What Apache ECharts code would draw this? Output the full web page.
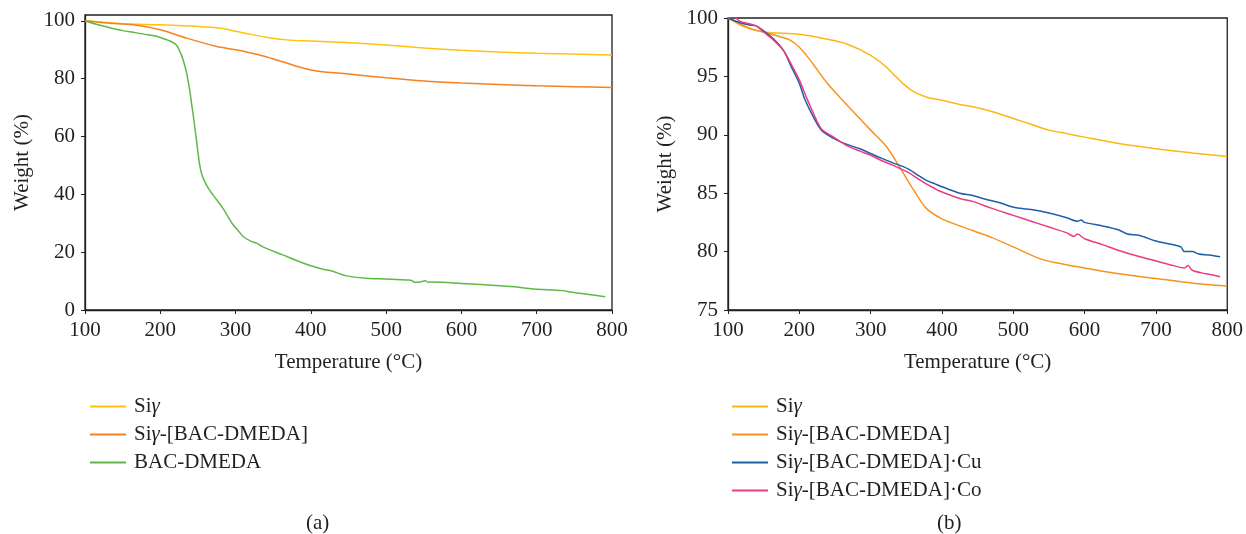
<!DOCTYPE html>
<html>
<head>
<meta charset="utf-8">
<script src="https://cdn.jsdelivr.net/npm/echarts@6/dist/echarts.min.js"></script>
<style>
  html, body { margin: 0; padding: 0; background: #fff; }
  #chart { width: 1246px; height: 534px; }
</style>
</head>
<body>
<div id="chart"></div>
<script>
// TGA curves, [temperature °C, weight %]
// panel (a)
const siyA = [[100,100],[150,99.0],[200,98.6],[252,98.0],[280,97.4],[300,96.4],[320,95.3],[341,94.3],[368,93.4],[400,93.0],[440,92.6],[500,91.6],[550,90.6],[600,89.8],[650,89.2],[700,88.8],[750,88.5],[800,88.2]];
const siyBacA = [[100,100],[130,99.2],[164,98.6],[200,96.9],[235,94.0],[275,91.1],[300,90.0],[332,88.2],[350,86.8],[368,85.4],[385,84.0],[400,83.0],[412,82.5],[450,81.6],[500,80.3],[550,79.2],[600,78.5],[650,78.0],[700,77.5],[750,77.2],[800,76.9]];
const bacA = [[100,100],[115,98.8],[133,97.6],[150,96.6],[164,96.0],[180,95.3],[190,94.9],[200,94.2],[212,93.1],[221,91.7],[228,88.2],[232,85.0],[235,81.9],[239,76.1],[242,70.5],[244,66.9],[248,58.8],[252,50.7],[255,47.0],[259,44.4],[265,41.6],[270,39.8],[283,35.2],[297,29.4],[305,27.0],[310,25.4],[320,23.8],[328,23.1],[335,22.0],[341,21.3],[355,19.8],[368,18.5],[385,16.7],[400,15.3],[415,14.2],[430,13.3],[447,11.8],[474,11.0],[500,10.7],[527,10.4],[533,10.3],[538,9.6],[545,9.7],[552,10.1],[556,9.6],[563,9.7],[600,9.2],[651,8.4],[670,8.0],[696,7.3],[735,6.7],[745,6.2],[762,5.6],[791,4.6]];

// panel (b)
const siyB = [[100,100],[125,99.2],[150,98.8],[200,98.6],[238,98.2],[266,97.8],[300,96.8],[322,95.8],[335,95.0],[345,94.4],[360,93.7],[380,93.2],[397,93.0],[425,92.6],[443,92.4],[470,92.0],[500,91.4],[525,90.9],[550,90.4],[575,90.1],[600,89.8],[648,89.25],[700,88.8],[751,88.45],[800,88.15]];
const siyBacB = [[100,100],[131,99.1],[150,98.8],[173,98.4],[187,98.1],[200,97.5],[210,96.8],[220,96.0],[238,94.5],[257,93.2],[280,91.7],[300,90.4],[322,89.0],[340,87.3],[360,85.3],[378,83.7],[400,82.8],[425,82.2],[443,81.8],[470,81.2],[500,80.4],[537,79.4],[560,79.05],[600,78.6],[648,78.1],[700,77.7],[751,77.3],[800,77.05]];
const cuB = [[100,100],[117,99.6],[130,99.4],[140,99.3],[150,98.9],[164,98.2],[178,97.2],[189,95.8],[200,94.4],[208,93.0],[220,91.5],[231,90.4],[248,89.7],[266,89.2],[285,88.8],[300,88.4],[315,88.0],[331,87.6],[345,87.3],[355,87.0],[365,86.6],[378,86.1],[390,85.8],[400,85.55],[425,85.0],[443,84.8],[460,84.5],[480,84.2],[500,83.8],[525,83.6],[550,83.3],[575,82.9],[590,82.6],[595,82.7],[600,82.5],[625,82.2],[648,81.85],[660,81.5],[676,81.4],[700,80.9],[723,80.6],[735,80.4],[740,80.0],[751,80.0],[760,79.8],[775,79.7],[790,79.55]];
const coB = [[100,100],[108,100.1],[117,99.7],[130,99.5],[140,99.3],[150,98.8],[164,98.1],[178,97.2],[189,96.0],[200,94.7],[210,93.2],[220,91.8],[231,90.5],[248,89.8],[266,89.1],[285,88.6],[300,88.25],[315,87.8],[331,87.4],[345,87.0],[355,86.7],[365,86.3],[378,85.8],[390,85.4],[400,85.1],[425,84.55],[443,84.3],[470,83.7],[500,83.1],[525,82.6],[550,82.1],[575,81.6],[585,81.3],[590,81.5],[600,81.1],[625,80.6],[648,80.1],[675,79.6],[700,79.2],[725,78.8],[740,78.6],[745,78.8],[751,78.4],[770,78.1],[780,78.0],[790,77.85]];

const xTicks = [100, 200, 300, 400, 500, 600, 700, 800];
const yTicksA = [0, 20, 40, 60, 80, 100];
const yTicksB = [75, 80, 85, 90, 95, 100];

const colA = { siy: '#FFC20E', bac: '#F58220', free: '#5EB946' };
const colB = { siy: '#FDB714', bac: '#F7941D', cu: '#1C5EA8', co: '#EC3A84' };

const FONT = '"Liberation Serif", "DejaVu Serif", serif';
const INK = '#231f20';
const FS = 21;

function xAxisCfg(gridIndex) {
    return {
        gridIndex: gridIndex,
        type: 'value',
        min: 100, max: 800, interval: 100,
        name: 'Temperature (°C)',
        nameLocation: 'middle',
        nameGap: 42,
        nameTextStyle: { fontFamily: FONT, fontSize: FS, color: INK },
        axisLine: { show: true, lineStyle: { color: INK, width: 1.3 } },
        axisTick: { show: true, inside: false, length: 4, lineStyle: { color: INK } },
        axisLabel: { fontFamily: FONT, fontSize: FS, color: INK, margin: 10 },
        splitLine: { show: false }
    };
}

function yAxisCfg(gridIndex, min, max, ticks) {
    return {
        gridIndex: gridIndex,
        type: 'value',
        min: min, max: max,
        name: 'Weight (%)',
        nameLocation: 'middle',
        nameRotate: 90,
        nameGap: 52,
        nameTextStyle: { fontFamily: FONT, fontSize: FS, color: INK },
        axisLine: { show: true, lineStyle: { color: INK, width: 1.3 } },
        axisTick: { show: true, inside: false, length: 4, customValues: ticks, lineStyle: { color: INK } },
        axisLabel: { fontFamily: FONT, fontSize: FS, color: INK, margin: 10, customValues: ticks },
        splitLine: { show: false }
    };
}

function line(name, data, color, xi) {
    return {
        name: name, type: 'line', data: data,
        xAxisIndex: xi, yAxisIndex: xi,
        showSymbol: false, symbol: 'none', smooth: 0.3,
        lineStyle: { color: color, width: 1.5 },
        itemStyle: { color: color },
        animation: false
    };
}

function legendCfg(left, items) {
    return {
        orient: 'vertical',
        left: left, top: 391,
        icon: 'rect',
        itemWidth: 36, itemHeight: 2,
        itemGap: 7,
        selectedMode: false,
        data: items.map(it => ({ name: it[0], itemStyle: { color: it[1] } })),
        formatter: name => name.replace('γ', '{i|γ}'),
        textStyle: {
            fontFamily: FONT, fontSize: FS, color: INK, padding: [0, 0, 0, 3],
            rich: { i: { fontFamily: FONT, fontSize: FS, fontStyle: 'italic', color: INK } }
        }
    };
}

const chart = echarts.init(document.getElementById('chart'));
chart.setOption({
    backgroundColor: '#fff',
    animation: false,
    grid: [
        { left: 85, top: 15, width: 527, height: 295, show: true, borderColor: INK, borderWidth: 1.3, containLabel: false },
        { left: 728, top: 18, width: 500, height: 292, show: true, borderColor: INK, borderWidth: 1.3, containLabel: false }
    ],
    xAxis: [xAxisCfg(0), xAxisCfg(1)],
    yAxis: [yAxisCfg(0, 0, 102, yTicksA), yAxisCfg(1, 75, 100, yTicksB)],
    legend: [
        legendCfg(85, [['Siγ', colA.siy], ['Siγ-[BAC-DMEDA]', colA.bac], ['BAC-DMEDA', colA.free]]),
        legendCfg(727, [['Siγ ', colB.siy], ['Siγ-[BAC-DMEDA] ', colB.bac], ['Siγ-[BAC-DMEDA]·Cu', colB.cu], ['Siγ-[BAC-DMEDA]·Co', colB.co]])
    ],
    graphic: [
        { type: 'text', left: 306, top: 513, style: { text: '(a)', fontFamily: FONT, fontSize: FS, fill: INK } },
        { type: 'text', left: 937, top: 513, style: { text: '(b)', fontFamily: FONT, fontSize: FS, fill: INK } }
    ],
    series: [
        line('Siγ', siyA, colA.siy, 0),
        line('Siγ-[BAC-DMEDA]', siyBacA, colA.bac, 0),
        line('BAC-DMEDA', bacA, colA.free, 0),
        line('Siγ ', siyB, colB.siy, 1),
        line('Siγ-[BAC-DMEDA] ', siyBacB, colB.bac, 1),
        line('Siγ-[BAC-DMEDA]·Cu', cuB, colB.cu, 1),
        line('Siγ-[BAC-DMEDA]·Co', coB, colB.co, 1)
    ]
});
window.addEventListener('resize', () => chart.resize());
</script>
</body>
</html>
